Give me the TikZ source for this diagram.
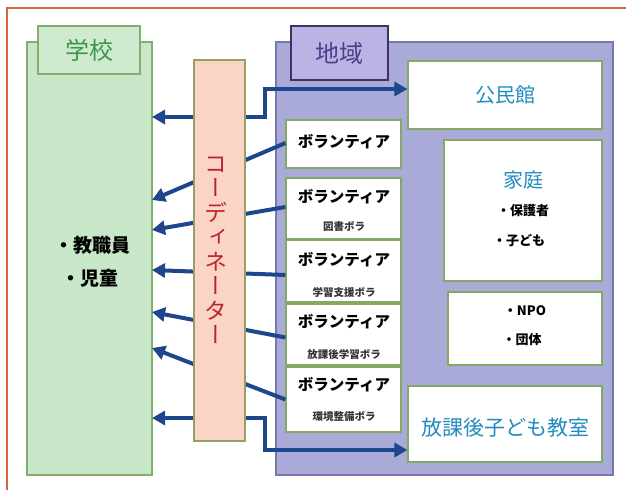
\documentclass[tikz,border=0pt]{standalone}
\usepackage{fontspec}
\setmainfont{Noto Sans CJK JP}
\newfontfamily\jp{Noto Sans CJK JP}
\newfontfamily\jpv[RawFeature=+vert]{Noto Sans CJK JP}
\usetikzlibrary{arrows.meta}
\definecolor{frameor}{RGB}{215,100,50}
\definecolor{schfill}{RGB}{200,230,200}
\definecolor{schline}{RGB}{130,175,110}
\definecolor{schtext}{RGB}{60,150,80}
\definecolor{cofill}{RGB}{250,212,196}
\definecolor{coline}{RGB}{150,160,100}
\definecolor{cotext}{RGB}{190,35,45}
\definecolor{regfill}{RGB}{170,170,216}
\definecolor{regline}{RGB}{120,120,175}
\definecolor{tabfill}{RGB}{185,180,228}
\definecolor{tabline}{RGB}{60,50,100}
\definecolor{tabtext}{RGB}{80,60,140}
\definecolor{boxline}{RGB}{130,170,100}
\definecolor{teal}{RGB}{35,140,190}
\definecolor{arrowblue}{RGB}{30,70,140}
\tikzset{
  rbox/.style={rectangle, inner sep=0pt, line width=1.2pt},
  wbox/.style={rbox, draw=boxline, fill=white},
  conn/.style={draw=arrowblue, line width=4pt},
  tip/.tip={Triangle[length=13pt,width=14pt]},
  txt/.style={inner sep=0pt, font=\jp},
}
\begin{document}
\begin{tikzpicture}[x=1pt,y=-1pt]
\useasboundingbox (0,0) rectangle (626,490);
\fill[white] (0,0) rectangle (626,490);
\draw[frameor, line width=1.5pt] (7,490) -- (7,8) -- (626,8);

% school
\node[rbox, draw=schline, fill=schfill, minimum width=125pt, minimum height=433pt] (school) at (89.5,258.5) {};
\node[rbox, draw=schline, fill=schfill!85!white, minimum width=102pt, minimum height=48pt] (schtab) at (89,50) {};
\node[txt, font=\jp\fontsize{24}{24}\selectfont, text=schtext] (schlab) at (89,50) {学校};
\node[txt, font=\jp\bfseries\fontsize{19}{19}\selectfont] (t1) at (92,245) {・教職員};
\node[txt, font=\jp\bfseries\fontsize{19}{19}\selectfont] (t2) at (90,278) {・児童};

% region
\node[rbox, draw=regline, fill=regfill, minimum width=337pt, minimum height=433pt] (region) at (444.5,258.5) {};
\node[rbox, draw=tabline, fill=tabfill, minimum width=97pt, minimum height=54pt] (regtab) at (339.5,53) {};
\node[txt, font=\jp\fontsize{24}{24}\selectfont, text=tabtext] (reglab) at (339.5,53) {地域};

\node[wbox, minimum width=194pt, minimum height=68pt] (komin) at (505,95) {};
\node[txt, font=\jp\fontsize{20}{20}\selectfont, text=teal] at (505,95) {公民館};

\node[wbox, minimum width=158pt, minimum height=141pt] (katei) at (523,210.5) {};
\node[txt, font=\jp\fontsize{20}{20}\selectfont, text=teal] at (523,180) {家庭};
\node[txt, font=\jp\bfseries\fontsize{13}{13}\selectfont] at (523,211) {・保護者};
\node[txt, font=\jp\bfseries\fontsize{13}{13}\selectfont] at (519,241) {・子ども};

\node[wbox, minimum width=154pt, minimum height=73pt] (npo) at (525,328.5) {};
\node[txt, font=\jp\bfseries\fontsize{13}{13}\selectfont] at (525,311) {・NPO};
\node[txt, font=\jp\bfseries\fontsize{13}{13}\selectfont] at (522,340) {・団体};

\node[wbox, minimum width=194pt, minimum height=76pt] (houka) at (505,424) {};
\node[txt, font=\jp\fontsize{21}{21}\selectfont, text=teal] at (505,428) {放課後子ども教室};

% volunteers
\node[wbox, minimum width=115pt, minimum height=48pt] (v1) at (343.5,144) {};
\node[wbox, minimum width=115pt, minimum height=61pt] (v2) at (343.5,208.5) {};
\node[wbox, minimum width=115pt, minimum height=62pt] (v3) at (343.5,271) {};
\node[wbox, minimum width=115pt, minimum height=61pt] (v4) at (343.5,334.5) {};
\node[wbox, minimum width=115pt, minimum height=65pt] (v5) at (343.5,399.5) {};
\tikzset{vt/.style={txt, font=\jp\bfseries\fontsize{15.5}{15.5}\selectfont},
         vs/.style={txt, font=\jp\bfseries\fontsize{10.5}{10.5}\selectfont, text=black!80}}
\node[vt] at (344,142) {ボランティア};
\node[vt] at (344,197) {ボランティア};
\node[vs] at (344,227) {図書ボラ};
\node[vt] at (344,260) {ボランティア};
\node[vs] at (344,292) {学習支援ボラ};
\node[vt] at (344,322) {ボランティア};
\node[vs] at (344,355) {放課後学習ボラ};
\node[vt] at (344,385) {ボランティア};
\node[vs] at (344,417) {環境整備ボラ};

% connectors
\coordinate (s0) at (152,117);
\coordinate (s1) at (152,200);
\coordinate (s2) at (152,230);
\coordinate (s3) at (152,270);
\coordinate (s4) at (152,312);
\coordinate (s5) at (152,348);
\coordinate (s6) at (152,418);
\draw[conn, {tip}-{tip}] (s0) -- (265,117) -- (265,89) -- ([yshift=6pt]komin.west);
\draw[conn, -{tip}] ([yshift=1pt]v1.west) -- (s1);
\draw[conn, -{tip}] ([yshift=1.5pt]v2.west) -- (s2);
\draw[conn, -{tip}] ([yshift=-4pt]v3.west) -- (s3);
\draw[conn, -{tip}] ([yshift=-3pt]v4.west) -- (s4);
\draw[conn, -{tip}] (v5.west) -- (s5);
\draw[conn, {tip}-{tip}] (s6) -- (265,418) -- (265,450) -- ([yshift=-26pt]houka.west);

% coordinator
\node[rbox, draw=coline, fill=cofill, minimum width=51pt, minimum height=381pt] (coord) at (219.5,250.5) {};
\node[txt, font=\jpv\fontsize{23}{24.5}\selectfont, text=cotext, align=center] (colab) at (216,250) {コ\\ー\\デ\\ィ\\ネ\\ー\\タ\\ー};
\end{tikzpicture}
\end{document}
